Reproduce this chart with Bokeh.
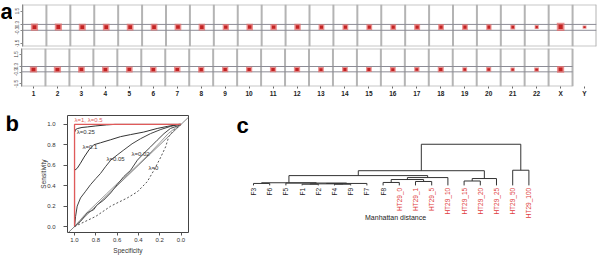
import math
from bokeh.plotting import figure
from bokeh.layouts import column, row
from bokeh.models import Range1d, FixedTicker, Label, ColumnDataSource, Slope
from bokeh.core.properties import value
from bokeh.embed import file_html
from bokeh.resources import INLINE

FONT = "Liberation Sans"

# ---------------- panel a data ----------------
chromosomes = [str(i) for i in range(1, 23)] + ["X", "Y"]
a_ticks = [1.5, 0.3, -0.3, -1.5]
a_tick_labels = ["1.5", "0.3", "-0.3", "-1.5"]
thresholds = [0.27, -0.27]

top_mean = [0.02, 0.03, 0.02, 0.02, 0.03, 0.02, 0.03, 0.02, 0.02, 0.03, 0.02, 0.03,
            0.02, 0.02, 0.02, 0.02, 0.03, 0.03, 0.02, 0.02, 0.02, 0.03, 0.05, 0.02]
top_width = [0.30, 0.30, 0.29, 0.28, 0.28, 0.28, 0.28, 0.27, 0.26, 0.27, 0.27, 0.27,
             0.24, 0.24, 0.24, 0.24, 0.25, 0.24, 0.24, 0.22, 0.20, 0.17, 0.32, 0.16]
top_spread = [0.65, 0.65, 0.63, 0.62, 0.62, 0.62, 0.60, 0.60, 0.58, 0.58, 0.58, 0.58,
              0.55, 0.55, 0.55, 0.55, 0.55, 0.55, 0.52, 0.55, 0.45, 0.38, 0.75, 0.32]

bottom_mean = [-0.03, -0.04, -0.03, -0.04, -0.03, -0.04, -0.03, -0.04, -0.03, -0.03, -0.04, -0.03,
               -0.04, -0.03, -0.03, -0.04, -0.03, -0.03, -0.04, -0.03, -0.04, -0.04, -0.02]
bottom_width = [0.30, 0.30, 0.28, 0.28, 0.28, 0.27, 0.27, 0.26, 0.26, 0.26, 0.26, 0.26,
                0.24, 0.24, 0.24, 0.24, 0.22, 0.25, 0.20, 0.21, 0.18, 0.20, 0.30]
bottom_spread = [0.62, 0.62, 0.60, 0.60, 0.60, 0.58, 0.58, 0.58, 0.56, 0.56, 0.56, 0.55,
                 0.52, 0.52, 0.52, 0.52, 0.48, 0.55, 0.45, 0.48, 0.40, 0.42, 0.70]

# ---------------- panel b data (ROC) ----------------
roc_red_spec = [1.0, 1.0, 0.0]
roc_red_sens = [0.0, 1.0, 1.0]
roc_025_spec = [1.0, 1.0, 0.99, 0.97, 0.93, 0.88, 0.80, 0.70, 0.62, 0.0]
roc_025_sens = [0.0, 0.92, 0.95, 0.96, 0.97, 0.975, 0.985, 0.995, 1.0, 1.0]
roc_01_spec = [1.0, 1.0, 0.975, 0.944, 0.91, 0.865, 0.82, 0.756, 0.66, 0.568, 0.474, 0.35, 0.224, 0.13, 0.02, 0.0]
roc_01_sens = [0.0, 0.55, 0.57, 0.62, 0.68, 0.75, 0.80, 0.82, 0.85, 0.88, 0.90, 0.925, 0.96, 0.98, 1.0, 1.0]
roc_005_spec = [1.0, 0.99, 0.975, 0.944, 0.90, 0.85, 0.80, 0.756, 0.71, 0.66, 0.60, 0.537, 0.46, 0.38, 0.286, 0.19, 0.10, 0.02, 0.0]
roc_005_sens = [0.0, 0.10, 0.20, 0.28, 0.34, 0.41, 0.47, 0.52, 0.585, 0.65, 0.70, 0.75, 0.81, 0.86, 0.91, 0.95, 0.98, 1.0, 1.0]
roc_002_spec = [1.0, 0.944, 0.88, 0.82, 0.79, 0.725, 0.66, 0.60, 0.537, 0.474, 0.41, 0.35, 0.286, 0.224, 0.16, 0.10, 0.02, 0.0]
roc_002_sens = [0.0, 0.05, 0.135, 0.165, 0.21, 0.26, 0.33, 0.41, 0.49, 0.55, 0.65, 0.715, 0.78, 0.845, 0.91, 0.96, 0.99, 1.0]
roc_gray_spec = [1.0, 0.95, 0.9, 0.8, 0.7, 0.6, 0.5, 0.4, 0.3, 0.2, 0.12, 0.06, 0.0]
roc_gray_sens = [0.0, 0.06, 0.12, 0.22, 0.32, 0.42, 0.51, 0.61, 0.71, 0.82, 0.91, 0.96, 1.0]
roc_0_spec = [1.0, 0.9, 0.8, 0.66, 0.505, 0.41, 0.317, 0.255, 0.19, 0.145, 0.115, 0.07, 0.02, 0.0]
roc_0_sens = [0.0, 0.05, 0.10, 0.20, 0.28, 0.34, 0.44, 0.55, 0.68, 0.78, 0.88, 0.94, 0.98, 1.0]

roc_label_text = ["λ=1, λ=0.5", "λ=0.25", "λ=0.1", "λ=0.05", "λ=0.02", "λ=0"]
roc_label_spec = [1.0, 0.98, 0.925, 0.70, 0.465, 0.305]
roc_label_sens = [1.04, 0.925, 0.78, 0.66, 0.715, 0.57]
roc_label_color = ["#e05a5a", "#333333", "#333333", "#333333", "#333333", "#333333"]
b_ticks = [1.0, 0.8, 0.6, 0.4, 0.2, 0.0]

# ---------------- panel c data (dendrogram) ----------------
leaf_labels = ["F3", "F6", "F5", "F1", "F2", "F4", "F9", "F7", "F8",
               "HT29_0", "HT29_1", "HT29_5", "HT29_10", "HT29_15", "HT29_20",
               "HT29_25", "HT29_50", "HT29_100"]
# (left, right, height): negative = leaf (1-based), positive = earlier merge (1-based)
merges = [
    (-1, -2, 2.0),
    (-4, -5, 1.2),
    (-6, -7, 1.2),
    (2, 3, 1.6),
    (4, -8, 2.0),
    (-3, 5, 2.4),
    (1, 6, 2.7),
    (-9, -10, 3.0),
    (-11, -12, 4.0),
    (8, 9, 6.0),
    (10, -13, 8.0),
    (7, 11, 10.0),
    (-14, -15, 4.5),
    (13, -16, 7.0),
    (12, 14, 15.0),
    (-17, -18, 15.5),
    (15, 16, 42.0),
]


def style_common(p):
    p.background_fill_color = "white"
    p.border_fill_color = "white"
    p.grid.visible = False


def letter_fig(width, height, top, bottom, letter, x, y):
    f = figure(width=width, height=height, x_range=Range1d(0, width),
               y_range=Range1d(0, height - top - bottom),
               output_backend="svg", toolbar_location=None,
               x_axis_location=None, y_axis_location=None,
               min_border_left=0, min_border_right=0, min_border_top=top,
               min_border_bottom=bottom, outline_line_color=None)
    style_common(f)
    f.text(x=[x], y=[y], text=[letter], text_font=value(FONT), text_font_size="22px",
           text_font_style="bold", text_color="black", text_align="left",
           text_baseline="middle")
    return f


# ---------------- panel a ----------------
def make_track(width, height, means, widths, spreads, show_x, b_left, b_top, b_bottom):
    n = len(means)
    ylo, yhi = -1.76, 2.1
    p = figure(width=width, height=height, x_range=Range1d(0, 24), y_range=Range1d(ylo, yhi),
               output_backend="svg", toolbar_location=None,
               x_axis_location="below" if show_x else None, y_axis_location="left",
               min_border_left=b_left, min_border_right=4, min_border_top=b_top,
               min_border_bottom=b_bottom, outline_line_color=None)
    style_common(p)
    bounds = list(range(n + 1))
    p.segment(x0=[0, 0], y0=[yhi, ylo], x1=[n, n], y1=[yhi, ylo], line_color="#c8c8c8", line_width=2)
    p.segment(x0=bounds, y0=[ylo] * len(bounds), x1=bounds, y1=[yhi] * len(bounds),
              line_color="#b4b4b4", line_width=2)
    for t in thresholds:
        p.segment(x0=[0], y0=[t], x1=[n], y1=[t], line_color="#8c8c96", line_width=1)
    xs = [k + 0.5 for k in range(n)]
    src = ColumnDataSource(dict(x=xs, y=means, w=widths, h=spreads,
                                w2=[w * 0.55 for w in widths], h2=[h * 0.55 for h in spreads]))
    p.rect(x="x", y="y", width="w", height="h", source=src, fill_color="#e46a6a",
           fill_alpha=0.75, line_color=None)
    p.rect(x="x", y="y", width="w2", height="h2", source=src, fill_color="#c42323",
           line_color=None)
    ya = p.yaxis[0]
    ya.ticker = FixedTicker(ticks=a_ticks)
    ya.major_label_overrides = {t: l for t, l in zip(a_ticks, a_tick_labels)}
    ya.major_label_orientation = "vertical"
    ya.major_label_text_font = FONT
    ya.major_label_text_font_size = "4.5px"
    ya.major_label_text_color = "#444444"
    ya.major_tick_out = 2
    ya.major_tick_in = 0
    ya.minor_tick_line_color = None
    ya.major_label_standoff = 1
    ya.axis_line_color = "#888888"
    ya.major_tick_line_color = "#888888"
    if show_x:
        xa = p.xaxis[0]
        xa.ticker = FixedTicker(ticks=[k + 0.5 for k in range(24)])
        xa.major_label_overrides = {k + 0.5: c for k, c in enumerate(chromosomes)}
        xa.major_label_text_font = FONT
        xa.major_label_text_font_size = "6.5px"
        xa.major_label_text_font_style = "bold"
        xa.major_label_text_color = "#222222"
        xa.major_tick_out = 2
        xa.major_tick_in = 0
        xa.minor_tick_line_color = None
        xa.major_label_standoff = 1
        xa.axis_line_color = None
        xa.major_tick_line_color = "#666666"
    return p


fa = letter_fig(12, 47, 4, 1, "a", 0, 35)
pa_top = make_track(588, 47, top_mean, top_width, top_spread, False, 9, 4, 1)
pa_bot = make_track(600, 52, bottom_mean, bottom_width, bottom_spread, True, 21, 1, 11)

# ---------------- panel b ----------------
fb = letter_fig(30, 157, 16, 23, "b", 5, 110)
pb = figure(width=190, height=157, x_range=Range1d(1.066, -0.07), y_range=Range1d(-0.058, 1.087),
            output_backend="svg", toolbar_location=None,
            min_border_left=37, min_border_right=32, min_border_top=16, min_border_bottom=23,
            outline_line_color="#444444")
style_common(pb)
pb.add_layout(Slope(gradient=-1, y_intercept=1, line_color="#666666", line_width=0.8))
pb.line(roc_gray_spec, roc_gray_sens, line_color="#9a9a9a", line_width=1)
pb.line(roc_0_spec, roc_0_sens, line_color="#555555", line_width=1, line_dash="2 2")
pb.line(roc_002_spec, roc_002_sens, line_color="#444444", line_width=1)
pb.line(roc_005_spec, roc_005_sens, line_color="#444444", line_width=1)
pb.line(roc_01_spec, roc_01_sens, line_color="#333333", line_width=1)
pb.line(roc_025_spec, roc_025_sens, line_color="#333333", line_width=1)
pb.line(roc_red_spec, roc_red_sens, line_color="#e05a5a", line_width=1.3)
pb.text(x=roc_label_spec, y=roc_label_sens, text=roc_label_text, text_color=roc_label_color,
        text_font=value(FONT), text_font_size="6px", text_align="left", text_baseline="middle")
for ax in (pb.xaxis[0], pb.yaxis[0]):
    ax.ticker = FixedTicker(ticks=b_ticks)
    ax.major_label_overrides = {t: f"{t:.1f}" for t in b_ticks}
    ax.major_label_text_font = FONT
    ax.major_label_text_font_size = "6px"
    ax.major_label_text_color = "#333333"
    ax.axis_line_color = None
    ax.major_tick_line_color = "#555555"
    ax.minor_tick_line_color = None
    ax.major_tick_in = 0
    ax.axis_label_text_font = FONT
    ax.axis_label_text_font_size = "6.5px"
    ax.axis_label_text_font_style = "normal"
    ax.axis_label_text_color = "#333333"
pb.xaxis[0].axis_label = "Specificity"
pb.xaxis[0].major_tick_out = 3
pb.xaxis[0].major_label_standoff = 2
pb.xaxis[0].axis_label_standoff = 2
pb.yaxis[0].axis_label = "Sensitivity"
pb.yaxis[0].major_tick_out = 4
pb.yaxis[0].major_label_standoff = 8
pb.yaxis[0].major_label_orientation = "horizontal"
pb.yaxis[0].axis_label_standoff = -3

# ---------------- panel c ----------------
pc = figure(width=380, height=157, x_range=Range1d(-2.037, 21.42), y_range=Range1d(-48.08, 71.36),
            output_backend="svg", toolbar_location=None,
            x_axis_location=None, y_axis_location=None,
            min_border_left=0, min_border_right=0, min_border_top=16, min_border_bottom=23,
            outline_line_color=None)
style_common(pc)
node_x, node_h = {}, {}


def node_pos(ref):
    if ref < 0:
        return float(-ref - 1), 0.0
    return node_x[ref], node_h[ref]


x0s, y0s, x1s, y1s = [], [], [], []
for m, (a, b, h) in enumerate(merges, start=1):
    xa, ha = node_pos(a)
    xb, hb = node_pos(b)
    x0s += [xa, xa, xb]
    y0s += [ha, h, hb]
    x1s += [xa, xb, xb]
    y1s += [h, h, h]
    node_x[m] = (xa + xb) / 2.0
    node_h[m] = h
pc.segment(x0=x0s, y0=y0s, x1=x1s, y1=y1s, line_color="#333333", line_width=1)
leaf_colors = ["#222222" if l.startswith("F") else "#e03c3c" for l in leaf_labels]
pc.text(x=list(range(len(leaf_labels))), y=[-2.5] * len(leaf_labels), text=leaf_labels,
        angle=math.pi / 2, text_align="right", text_baseline="middle", text_color=leaf_colors,
        text_font=value(FONT), text_font_size="6.5px")
pc.text(x=[8.77], y=[-32.9], text=["Manhattan distance"], text_align="center",
        text_baseline="middle", text_color="#222222", text_font=value(FONT), text_font_size="7px")
pc.add_layout(Label(x=16, y=107, x_units="screen", y_units="screen", text="c",
                    text_font=FONT, text_font_size="22px", text_font_style="bold",
                    text_color="black", text_baseline="middle"))

layout = column(row(fa, pa_top), pa_bot, row(fb, pb, pc))
open("out.html", "w").write(file_html(layout, INLINE))
